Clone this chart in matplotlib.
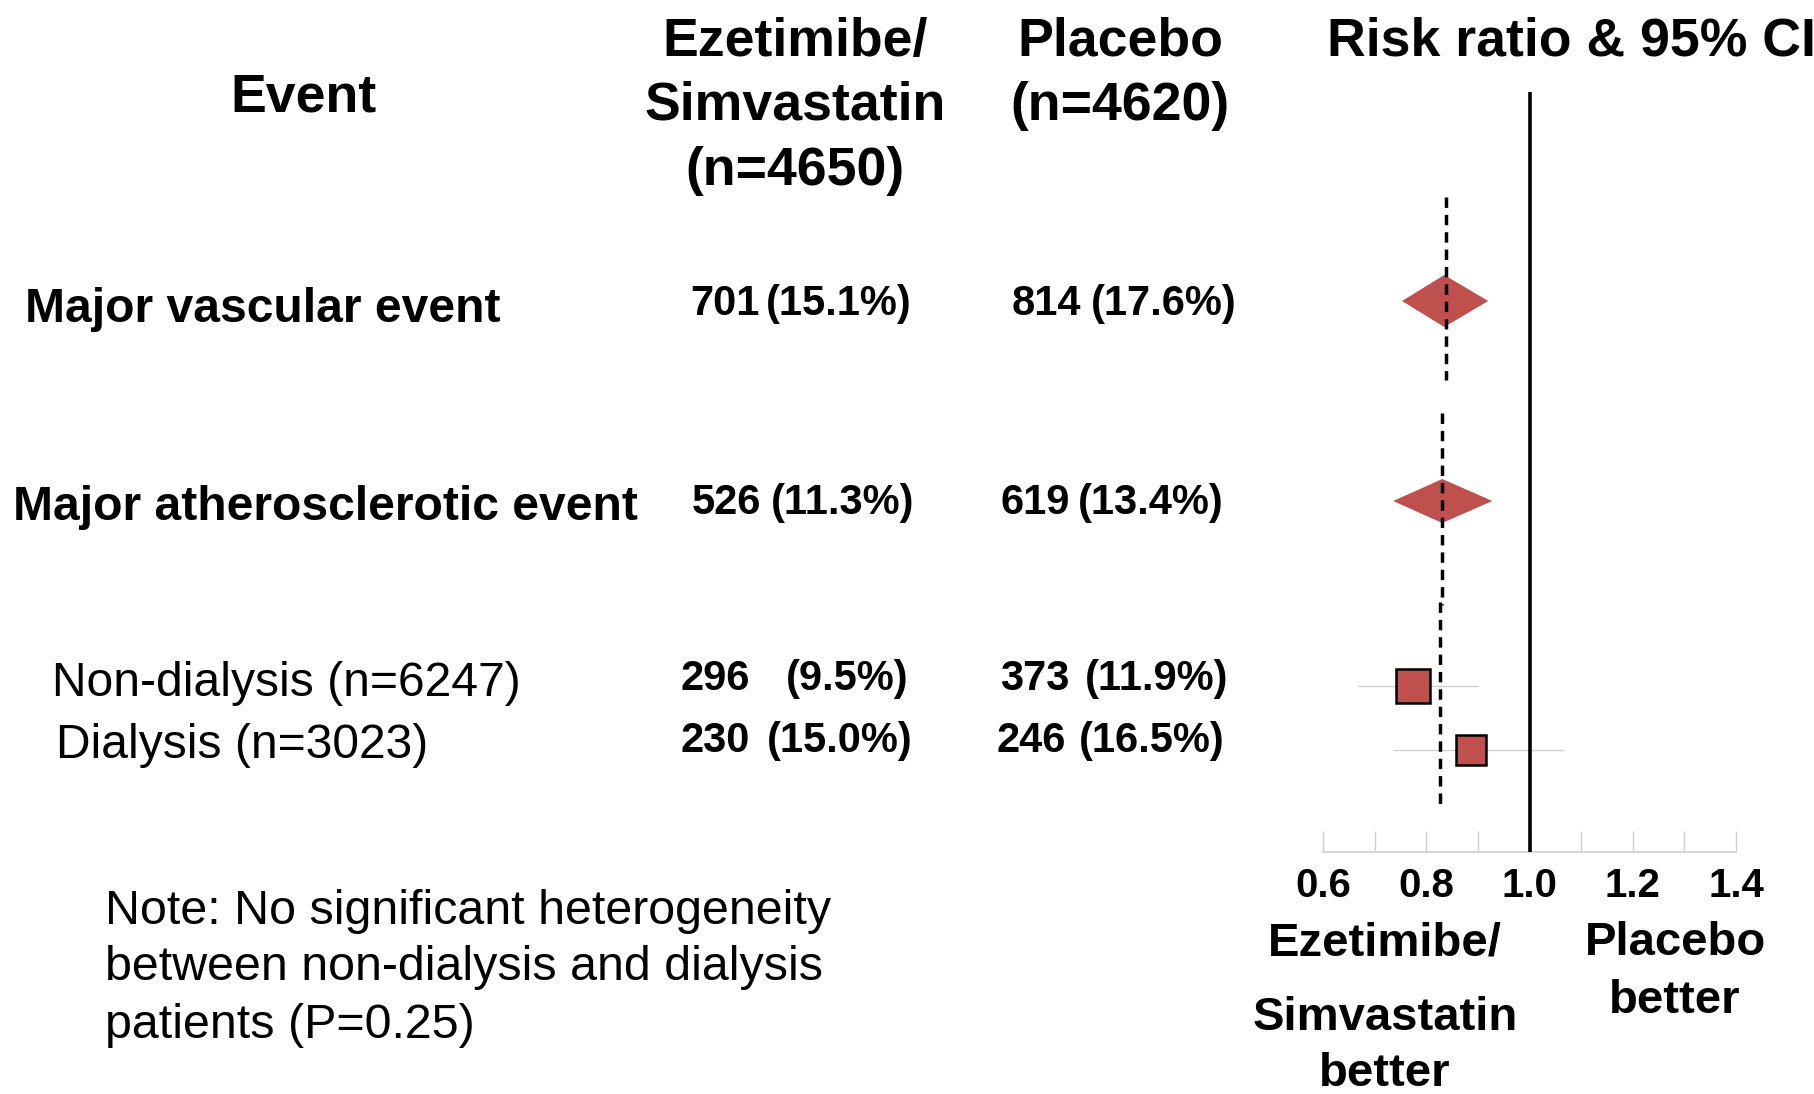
import matplotlib
matplotlib.use("Agg")
import matplotlib.pyplot as plt
from matplotlib.transforms import ScaledTranslation

plt.rcParams['font.family'] = ['Liberation Sans', 'DejaVu Sans']

# events and results per arm
events = ["Major vascular event", "Major atherosclerotic event",
          "Non-dialysis (n=6247)", "Dialysis (n=3023)"]
event_bold = [True, True, False, False]
eze_n = [701, 526, 296, 230]
eze_pct = [15.1, 11.3, 9.5, 15.0]
pla_n = [814, 619, 373, 246]
pla_pct = [17.6, 13.4, 11.9, 16.5]
rr = [0.835, 0.831, 0.775, 0.886]
rr_lo = [0.753, 0.736, 0.667, 0.738]
rr_hi = [0.920, 0.928, 0.901, 1.064]
is_summary = [True, True, False, False]
ticks = [0.6, 0.7, 0.8, 0.9, 1.0, 1.1, 1.2, 1.3, 1.4]
tick_labels = ["0.6", "", "0.8", "", "1.0", "", "1.2", "", "1.4"]

W, H = 1814, 1094
RED = "#C0504D"

# layout (pixel rows/columns of the page)
row_y = [301, 501, 686, 750]
label_y = [309, 507, 683, 746]
text_y = [304, 503, 679, 741]
label_x = [25, 13, 52, 56]
eze_cx = [690, 692, 681, 681]
eze_px = [912, 914, 909, 913]
pla_cx = [1012, 1000, 1000, 997]
pla_px = [1237, 1224, 1228, 1225]
half_h = [26, 22]
box_px = [34, 30]

fig = plt.figure(figsize=(W / 100, H / 100), dpi=100)

# page overlay for all the text
lay = fig.add_axes([0, 0, 1, 1])
lay.set_xlim(0, W)
lay.set_ylim(H, 0)
lay.axis("off")

hdr = dict(fontsize=38.6, fontweight="bold", ha="center", va="center")
lay.text(303, 98, "Event", **hdr)
lay.text(795, 42, "Ezetimibe/", **hdr)
lay.text(795, 106, "Simvastatin", **hdr)
lay.text(795, 171, "(n=4650)", **hdr)
lay.text(1120, 42, "Placebo", **hdr)
lay.text(1120, 106, "(n=4620)", **hdr)
lay.text(1327, 42, "Risk ratio & 95% CI", fontsize=38.6, fontweight="bold",
         ha="left", va="center", clip_on=False)

for i, name in enumerate(events):
    lay.text(label_x[i], label_y[i], name, fontsize=34.6,
             fontweight="bold" if event_bold[i] else "normal",
             ha="left", va="center")
    y = text_y[i]
    lay.text(eze_cx[i], y, str(eze_n[i]), fontsize=30, fontweight="bold",
             ha="left", va="center")
    lay.text(eze_px[i], y, f"({eze_pct[i]:.1f}%)", fontsize=30,
             fontweight="bold", ha="right", va="center")
    lay.text(pla_cx[i], y, str(pla_n[i]), fontsize=30, fontweight="bold",
             ha="left", va="center")
    lay.text(pla_px[i], y, f"({pla_pct[i]:.1f}%)", fontsize=30,
             fontweight="bold", ha="right", va="center")

note = ["Note: No significant heterogeneity",
        "between non-dialysis and dialysis",
        "patients (P=0.25)"]
for k, line in enumerate(note):
    lay.text(105, 911 + k * 57, line, fontsize=34.8, ha="left", va="center")

lab = dict(fontsize=34, fontweight="bold", ha="center", va="center")
lay.text(1385, 943, "Ezetimibe/", **lab)
lay.text(1385, 1018, "Simvastatin", **lab)
lay.text(1385, 1074, "better", **lab)
lay.text(1675, 943, "Placebo", **lab)
lay.text(1675, 1001, "better", **lab)

# forest plot: x in risk ratio, y in page rows
x0, x1, top, base = 1323, 1736, 92, 852
ax = fig.add_axes([x0 / W, 1 - base / H, (x1 - x0) / W, (base - top) / H])
ax.set_xlim(0.6, 1.4)
ax.set_ylim(base, top)
ax.patch.set_alpha(0)
for s in ["top", "right", "left"]:
    ax.spines[s].set_visible(False)
ax.spines["bottom"].set_color("#d0d0d0")
ax.spines["bottom"].set_linewidth(1.2)
ax.set_yticks([])
ax.set_xticks(ticks)
ax.set_xticklabels(tick_labels, fontsize=29, fontweight="bold")
nudge = ScaledTranslation(-0.04, 0, fig.dpi_scale_trans)
for t in ax.get_xticklabels():
    t.set_transform(t.get_transform() + nudge)
ax.tick_params(axis="x", direction="in", length=15, width=1, color="#d0d0d0",
               pad=11)

ax.axvline(1.0, color="black", lw=2.6, zorder=4)

# dashed line at the overall estimate, drawn in three pieces
dash_x = [0.839, 0.831, 0.827]
dash_y = [(197, 380), (413, 605), (602, 810)]
for dx, (ya, yb) in zip(dash_x, dash_y):
    ax.plot([dx, dx], [ya, yb], color="black", lw=2.5, ls=(0, (3.0, 2.0)),
            zorder=5)

for i in range(len(events)):
    y = row_y[i]
    if is_summary[i]:
        h = half_h[i]
        ax.fill([rr_lo[i], rr[i], rr_hi[i], rr[i]], [y, y - h, y, y + h],
                color=RED, lw=0, zorder=3)
    else:
        ax.plot([rr_lo[i], rr_hi[i]], [y, y], color="#cfcfcf", lw=1, zorder=2)
        ax.plot(rr[i], y, marker="s", ms=box_px[i - 2] * 0.72, mfc=RED,
                mec="black", mew=1.8, zorder=3)

fig.savefig("out.png", dpi=100)
